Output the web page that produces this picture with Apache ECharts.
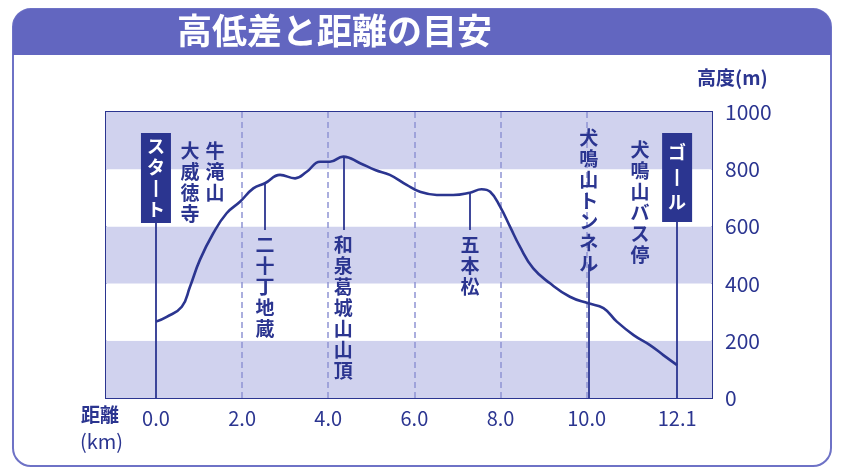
<!DOCTYPE html>
<html><head><meta charset="utf-8">
<script src="https://cdn.jsdelivr.net/npm/echarts@6/dist/echarts.min.js"></script>
<style>html,body{margin:0;padding:0;background:#fff}#c{width:842px;height:472px}</style>
</head><body><div id="c"></div>
<script>
// elevation profile (km, m)
const profileKm = [0,0.25,0.6,0.79,1.02,1.33,1.64,1.95,2.26,2.53,2.88,3.23,3.5,3.81,4.04,4.35,4.74,5.09,5.43,5.82,6.13,6.52,6.9,7.29,7.56,7.76,7.99,8.22,8.45,8.76,9.15,9.61,10.04,10.39,10.7,11.09,11.47,11.78,12.1];
const profileM  = [267,284,319,389,483,576,646,686,733,751,780,768,791,826,826,844,821,797,780,745,721,710,710,718,730,721,669,599,529,453,401,354,331,314,267,220,185,150,115];
const gridKm = [2,4,6,8,10];
const xTickValues = [0,2,4,6,8,10,12.1];
const yMin = 0, yMax = 1000, yStep = 200;
// start / goal boxes
const boxNames = ['スタート','ゴール'];
const boxKm = [0, 12.1];
const boxTop = 927, boxBottom = 616;
// points on the curve with a leader line and label below
const poiNames = ['二十丁地蔵','和泉葛城山山頂','五本松'];
const poiKm = [2.53, 4.35, 7.29];
const poiElev = [751, 844, 718];
const poiLineEnd = 587, poiLabelTop = 572;
// free notes (top aligned)
const noteNames = ['牛滝山','大威徳寺','犬鳴山トンネル','犬鳴山バス停'];
const noteKm = [1.37, 0.79, 10.05, 11.24];
const noteTop = [902, 902, 948, 906];
const tunnelKm = 10.05, tunnelLineTop = 468;

const NAVY = '#2b3590';
const FONT = '"Noto Sans CJK JP", "Noto Sans", sans-serif';
const vert = s => Array.from(s).map(c => c === 'ー' ? '丨' : c).join('\n');

const chart = echarts.init(document.getElementById('c'));

const solidLines = [];
boxKm.forEach(k => solidLines.push([{coord:[k,0]},{coord:[k,boxBottom]}]));
poiKm.forEach((k,i) => solidLines.push([{coord:[k,poiElev[i]]},{coord:[k,poiLineEnd]}]));
solidLines.push([{coord:[tunnelKm,0]},{coord:[tunnelKm,tunnelLineTop]}]);

const labelBase = {show:true, position:'bottom', distance:0, color:NAVY, fontSize:19, fontWeight:'bold', lineHeight:21, fontFamily:FONT, align:'center', verticalAlign:'top', opacity:1};

chart.setOption({
  animation:false,
  backgroundColor:'#fff',
  graphic:[
    {type:'rect', z:-10, shape:{x:13,y:9,width:818,height:457,r:18}, style:{fill:'none', stroke:'#6e72c6', lineWidth:2}},
    {type:'rect', z:-9, shape:{x:13,y:9,width:818,height:46,r:[18,18,0,0]}, style:{fill:'#6266c0'}},
    {type:'text', left:177, top:13, style:{text:'高低差と距離の目安', fill:'#fff', font:'bold 35px '+FONT}},
    {type:'text', left:697, top:68, style:{text:'高度(m)', fill:NAVY, font:'bold 19px '+FONT}},
    {type:'text', left:81, top:405, style:{text:'距離', fill:NAVY, font:'bold 19px '+FONT}},
    {type:'text', left:80, top:431, style:{text:'(km)', fill:NAVY, font:'20px '+FONT}}
  ],
  grid:{left:106, right:130, top:112, bottom:74, show:true, borderColor:NAVY, borderWidth:2, backgroundColor:'#fff'},
  xAxis:{type:'value', min:-1.16, max:12.91,
    axisLine:{show:false}, axisTick:{show:false}, splitLine:{show:false},
    axisLabel:{customValues:xTickValues, formatter:v=>v.toFixed(1), color:NAVY, fontSize:20, fontFamily:FONT, margin:10}},
  yAxis:{type:'value', position:'right', min:yMin, max:yMax, interval:yStep,
    axisLine:{show:false}, axisTick:{show:false}, splitLine:{show:false},
    splitArea:{show:true, areaStyle:{color:['#d0d2ee','#ffffff']}},
    axisLabel:{formatter:v=>String(v), color:NAVY, fontSize:21, fontFamily:FONT, margin:13}},
  series:[
    {type:'line', name:'grid', data:[], silent:true,
      markLine:{silent:true, symbol:['none','none'], label:{show:false},
        lineStyle:{color:'#8f94d4', type:[6,4], width:1.5},
        data:gridKm.map(k=>[{coord:[k,yMin]},{coord:[k,yMax]}])}},
    {type:'line', name:'profile', smooth:0.45, showSymbol:false, z:5,
      data:profileKm.map((k,i)=>[k,profileM[i]]),
      lineStyle:{color:NAVY, width:2.6},
      markLine:{silent:true, symbol:['none','none'], label:{show:false},
        lineStyle:{color:NAVY, type:'solid', width:1.8}, data:solidLines}},
    {type:'scatter', name:'boxes', symbolSize:0, z:10, itemStyle:{opacity:1},
      data:boxKm.map((k,i)=>{
        const n = Array.from(boxNames[i]).length;
        const lh = n >= 4 ? 21 : 25;
        const pad = Math.round((89 - n*lh)/2);
        return {value:[k,boxTop], name:boxNames[i], label:{lineHeight:lh, padding:[pad,6,pad,6]}};
      }),
      label:Object.assign({}, labelBase, {color:'#fff', fontSize:18,
        formatter:p=>vert(p.name), backgroundColor:NAVY})},
    {type:'scatter', name:'poi', symbolSize:0, z:10, itemStyle:{opacity:1},
      data:poiKm.map((k,i)=>({value:[k,poiLabelTop], name:poiNames[i]})),
      label:Object.assign({}, labelBase, {formatter:p=>vert(p.name)})},
    {type:'scatter', name:'notes', symbolSize:0, z:10, itemStyle:{opacity:1},
      data:noteKm.map((k,i)=>({value:[k,noteTop[i]], name:noteNames[i]})),
      label:Object.assign({}, labelBase, {formatter:p=>vert(p.name)})}
  ]
});
</script></body></html>
